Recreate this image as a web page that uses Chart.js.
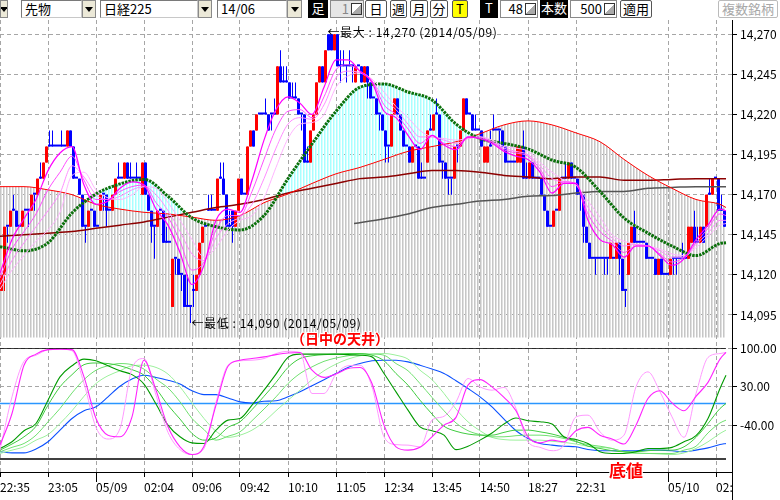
<!DOCTYPE html>
<html><head><meta charset="utf-8">
<script src="https://cdn.jsdelivr.net/npm/chart.js@4.4.1/dist/chart.umd.min.js"></script>
<style>
html,body{margin:0;padding:0;background:#fff;}
body{width:780px;height:500px;position:relative;overflow:hidden;font-family:"Noto Sans CJK JP",sans-serif;}
#tb{position:absolute;left:0;top:0;width:780px;height:20px;background:#fff;}
.e{position:absolute;top:0;height:18px;box-sizing:border-box;font-size:13px;line-height:16px;white-space:nowrap;overflow:hidden;color:#000;}
.box{background:#fff;border:1px solid #7a7a7a;border-right-color:#c8c8c8;border-bottom-color:#c8c8c8;padding-left:3px;}
.dd{background:#ece9d8;border:1px solid #8a8a8a;}
.dd::after{content:"";position:absolute;left:50%;top:6px;margin-left:-4px;border-left:4px solid transparent;border-right:4px solid transparent;border-top:5px solid #000;}
.blk{background:#000;color:#fff;text-align:center;}
.btn{background:#fff;border:1px solid #555;border-radius:2px;text-align:center;}
.inp{background:#fff;border:1px solid #8a8a8a;text-align:right;padding-right:14px;}
.dis{background:#e6e6e6;color:#888;}
.sp{position:absolute;right:1px;top:2px;width:11px;height:12px;box-sizing:border-box;border:1px solid #333;background:linear-gradient(to top left,#aaa 50%,#fff 50%);}
#c{position:absolute;left:0;top:20px;}
.ann{position:absolute;font-size:12px;line-height:14px;height:14px;white-space:pre;color:#000;letter-spacing:0.6px;}
.red{position:absolute;color:#ff0000;font-weight:bold;white-space:pre;text-shadow:-1px 0 #fff,1px 0 #fff,0 -1px #fff,0 1px #fff,1px 1px #fff,-1px -1px #fff;}
</style>
</head><body>
<div id="tb">
 <div class="e dd" style="left:0;width:8px"></div>
 <div class="e box" style="left:21px;width:61px">先物</div>
 <div class="e dd" style="left:82px;width:14px"></div>
 <div class="e box" style="left:100px;width:98px">日経225</div>
 <div class="e dd" style="left:198px;width:14px"></div>
 <div class="e box" style="left:217px;width:70px">14/06</div>
 <div class="e dd" style="left:287px;width:15px"></div>
 <div class="e blk" style="left:308px;width:20px">足</div>
 <div class="e inp dis" style="left:330px;width:34px">1<span class="sp"></span></div>
 <div class="e btn" style="left:365px;width:22px">日</div>
 <div class="e btn" style="left:390px;width:17px">週</div>
 <div class="e btn" style="left:410px;width:18px">月</div>
 <div class="e btn" style="left:430px;width:18px">分</div>
 <div class="e btn" style="left:452px;width:16px;background:#ffff00">T</div>
 <div class="e blk" style="left:480px;width:18px">T</div>
 <div class="e inp" style="left:500px;width:38px">48<span class="sp"></span></div>
 <div class="e blk" style="left:540px;width:28px">本数</div>
 <div class="e inp" style="left:570px;width:47px">500<span class="sp"></span></div>
 <div class="e btn" style="left:620px;width:32px">適用</div>
 <div class="e btn" style="left:718px;width:60px;color:#a8a8a8;border-color:#bbb">複数銘柄</div>
</div>
<canvas id="c" width="780" height="480"></canvas>
<div class="ann" id="annMax"></div>
<div class="ann" id="annMin"></div>
<div class="red" style="left:291px;top:329px;font-size:14px;line-height:18px">（日中の天井）</div>
<div class="red" style="left:609px;top:460px;font-size:17px;line-height:20px">底値</div>
<script>
// ---------- candles (one per bar index 0..241) ----------
const opens = [
14110,14120,14150,14150,14160,14160,14150,14150,14160,14160,
14160,14170,14170,14180,14180,14190,14200,14200,14200,14200,
14200,14200,14200,14210,14200,14180,14180,14170,14150,14150,
14160,14160,14150,14160,14170,14170,14160,14160,14170,14180,
14180,14180,14190,14180,14180,14180,14180,14170,14190,14170,
14160,14150,14150,14160,14160,14140,14140,14100,14130,14130,
14120,14120,14100,14100,14110,14110,14120,14140,14150,14160,
14160,14160,14160,14180,14180,14170,14150,14160,14150,14160,
14180,14170,14170,14200,14210,14210,14220,14220,14220,14220,
14220,14220,14220,14250,14240,14240,14240,14230,14230,14230,
14220,14220,14190,14190,14210,14220,14240,14250,14240,14270,
14270,14260,14270,14250,14250,14250,14250,14250,14240,14250,
14250,14240,14250,14240,14230,14230,14220,14220,14210,14200,
14200,14220,14230,14220,14210,14200,14200,14190,14200,14200,
14180,14180,14190,14210,14210,14220,14220,14190,14190,14180,
14180,14180,14200,14200,14210,14230,14220,14220,14210,14210,
14210,14190,14190,14200,14210,14210,14210,14210,14200,14190,
14190,14190,14190,14190,14200,14180,14180,14190,14180,14180,
14180,14170,14160,14150,14150,14160,14160,14180,14180,14180,
14190,14180,14180,14170,14170,14150,14140,14130,14130,14130,
14130,14130,14130,14130,14130,14130,14140,14130,14110,14120,
14140,14150,14140,14140,14140,14140,14130,14130,14130,14120,
14130,14120,14120,14120,14130,14130,14130,14130,14130,14130,
14140,14150,14140,14140,14150,14150,14170,14170,14180,14180,
14160,14160];
const highs = [
14120,14150,14150,14160,14170,14160,14150,14160,14160,14160,
14170,14170,14180,14190,14190,14200,14210,14210,14200,14200,
14210,14200,14210,14210,14200,14180,14180,14170,14150,14160,
14160,14160,14150,14170,14170,14170,14160,14170,14180,14190,
14180,14190,14190,14190,14180,14190,14180,14190,14190,14170,
14160,14150,14160,14160,14160,14150,14140,14130,14130,14130,
14120,14120,14120,14100,14120,14120,14140,14150,14150,14170,
14170,14160,14180,14190,14190,14170,14160,14160,14160,14180,
14180,14170,14200,14210,14210,14220,14220,14220,14230,14220,
14220,14230,14250,14260,14250,14250,14240,14240,14240,14230,
14220,14220,14200,14210,14220,14240,14250,14250,14260,14270,
14270,14270,14270,14260,14260,14250,14260,14250,14250,14250,
14250,14250,14250,14240,14230,14230,14220,14220,14210,14200,
14220,14230,14230,14220,14210,14200,14200,14200,14200,14200,
14190,14180,14210,14220,14220,14230,14220,14190,14190,14180,
14180,14200,14200,14210,14230,14230,14220,14220,14220,14210,
14210,14200,14200,14210,14220,14210,14210,14210,14200,14190,
14190,14190,14200,14200,14210,14190,14190,14190,14180,14180,
14180,14170,14160,14150,14160,14160,14180,14180,14190,14190,
14190,14180,14180,14170,14170,14150,14140,14130,14130,14130,
14130,14130,14130,14140,14130,14140,14140,14130,14110,14140,
14150,14160,14140,14140,14140,14140,14130,14130,14130,14130,
14130,14120,14120,14130,14130,14130,14130,14140,14130,14150,
14150,14160,14150,14150,14150,14170,14180,14180,14180,14180,
14170,14160];
const lows = [
14110,14110,14140,14150,14160,14150,14150,14150,14160,14150,
14160,14160,14170,14180,14180,14190,14200,14200,14200,14200,
14200,14200,14200,14200,14180,14180,14170,14150,14140,14150,
14160,14150,14150,14160,14160,14150,14160,14160,14170,14180,
14180,14180,14180,14180,14180,14180,14180,14170,14170,14160,
14140,14130,14150,14160,14140,14140,14140,14100,14120,14120,
14110,14100,14100,14090,14100,14110,14120,14140,14150,14160,
14160,14160,14160,14180,14170,14150,14150,14140,14150,14160,
14170,14170,14170,14200,14200,14210,14220,14220,14220,14210,
14210,14220,14220,14240,14240,14240,14230,14230,14230,14220,
14210,14190,14190,14190,14210,14220,14240,14240,14240,14260,
14260,14260,14250,14240,14250,14240,14250,14240,14240,14250,
14240,14240,14230,14230,14230,14220,14210,14210,14190,14190,
14200,14220,14220,14210,14200,14200,14190,14190,14200,14180,
14180,14180,14190,14210,14210,14220,14190,14180,14180,14170,
14170,14180,14190,14200,14210,14220,14220,14210,14210,14210,
14200,14190,14190,14200,14210,14210,14200,14200,14190,14190,
14190,14190,14190,14190,14180,14180,14180,14180,14180,14180,
14170,14160,14150,14150,14150,14160,14160,14180,14180,14180,
14180,14180,14170,14160,14140,14140,14130,14130,14120,14130,
14130,14120,14120,14130,14130,14130,14120,14110,14100,14120,
14140,14140,14140,14140,14140,14130,14130,14130,14120,14120,
14120,14120,14120,14120,14120,14120,14130,14130,14130,14130,
14140,14140,14140,14140,14140,14150,14170,14170,14180,14160,
14160,14150];
const closes = [
14120,14150,14150,14160,14160,14150,14150,14160,14160,14160,
14170,14170,14180,14180,14190,14200,14200,14200,14200,14200,
14200,14200,14210,14200,14180,14180,14170,14150,14150,14160,
14160,14150,14150,14170,14170,14160,14160,14170,14180,14180,
14180,14190,14180,14180,14180,14180,14180,14190,14170,14160,
14150,14150,14160,14160,14140,14140,14140,14130,14130,14120,
14120,14100,14100,14100,14110,14120,14140,14150,14150,14160,
14160,14160,14180,14180,14170,14150,14150,14150,14160,14180,
14170,14170,14200,14210,14200,14220,14220,14220,14220,14210,
14220,14220,14250,14240,14240,14240,14230,14230,14230,14220,
14220,14190,14190,14210,14220,14240,14250,14240,14260,14260,
14260,14270,14250,14250,14250,14250,14250,14250,14250,14250,
14240,14250,14240,14230,14230,14220,14220,14210,14200,14200,
14220,14230,14220,14210,14200,14200,14190,14200,14200,14180,
14180,14180,14210,14210,14220,14220,14190,14190,14180,14180,
14180,14200,14200,14210,14230,14220,14220,14210,14210,14210,
14200,14200,14200,14200,14210,14210,14210,14200,14190,14190,
14190,14190,14200,14200,14180,14180,14190,14180,14180,14180,
14170,14160,14150,14150,14160,14160,14180,14180,14180,14190,
14180,14180,14170,14170,14150,14140,14130,14130,14130,14130,
14130,14130,14130,14140,14130,14140,14130,14110,14110,14140,
14150,14140,14140,14140,14140,14130,14130,14130,14120,14130,
14120,14120,14120,14130,14130,14130,14130,14130,14130,14150,
14150,14140,14140,14150,14140,14170,14170,14180,14180,14160,
14160,14150];

// ---------- sampled overlay lines (bar index of each sample) ----------
const sampleIdx = [0,4,8,12,16,20,24,28,32,36,40,44,48,52,56,60,64,68,72,76,80,84,88,92,96,100,104,108,112,116,120,124,128,132,136,140,144,148,152,156,160,164,168,172,176,180,184,188,192,196,200,204,208,212,216,220,224,228,232,236,240,242];
const slowIdx = [0,8,16,24,32,40,48,56,64,72,80,88,96,104,112,120,128,136,144,152,160,168,176,184,192,200,208,216,224,232,240,242];
const grayIdx = [118,128,136,144,152,160,168,176,184,192,200,208,216,224,232,240,242];

const ribbonFast = [14121,14142,14155,14167,14185,14196,14200,14176,14164,14166,14174,14178,14176,14161,14151,14134,14114,14126,14154,14161,14159,14179,14204,14223,14231,14227,14220,14237,14254,14254,14247,14240,14222,14218,14207,14198,14207,14201,14198,14206,14205,14202,14197,14194,14192,14184,14171,14177,14177,14154,14142,14139,14131,14138,14138,14132,14126,14130,14142,14151,14161,14160];
const ribbonMid1 = [14118,14136,14147,14158,14173,14184,14194,14179,14167,14167,14172,14175,14176,14165,14156,14141,14123,14128,14148,14157,14157,14172,14192,14211,14222,14223,14218,14231,14248,14251,14247,14241,14226,14220,14211,14202,14207,14202,14200,14206,14205,14203,14198,14196,14194,14186,14175,14178,14177,14158,14147,14141,14134,14138,14138,14133,14128,14131,14140,14149,14158,14157];
const ribbonMid2 = [14114,14129,14140,14150,14160,14171,14188,14181,14170,14167,14169,14173,14175,14170,14160,14147,14133,14129,14143,14152,14156,14164,14180,14199,14214,14218,14217,14226,14243,14247,14246,14241,14230,14223,14214,14206,14206,14204,14202,14205,14206,14203,14199,14197,14195,14188,14180,14178,14176,14162,14151,14143,14138,14139,14138,14135,14131,14131,14139,14146,14154,14154];
const ribbonSlow = [14111,14123,14132,14141,14148,14159,14182,14184,14173,14168,14167,14170,14175,14174,14165,14154,14142,14131,14137,14148,14154,14157,14168,14187,14205,14214,14215,14220,14237,14244,14246,14242,14234,14225,14218,14210,14206,14205,14204,14205,14206,14204,14200,14199,14197,14190,14184,14179,14176,14166,14156,14145,14141,14139,14138,14136,14133,14132,14137,14144,14151,14152];

const greenMA = [14137.6,14135,14140,14158.6,14170.4,14176.7,14179.5,14169,14155.5,14150,14148,14157,14180,14201.6,14222,14237,14239,14234,14229,14214,14205,14202,14198.5,14191.6,14187,14172,14155.5,14146,14138,14132,14139.6,14140];
const redMA = [14175,14175,14173,14170,14164,14161,14159,14158,14156,14154,14157,14165,14170.5,14177,14183,14187,14192,14197,14200,14203,14208,14213.5,14216,14213.5,14208.5,14203,14192,14182,14174,14167,14164,14162];
const maroonMA = [14144,14145,14146,14147,14149,14151,14153,14156,14159,14162,14164,14167,14171,14174,14177,14180,14181,14183,14185,14185,14184,14182,14181,14180,14181,14181,14179,14179,14179.5,14180,14180,14180];
const grayMA = [14152,14155,14158,14162,14164,14166,14167,14169,14169.5,14171,14172,14172,14174,14174.5,14175,14175,14175];
const hatchFloor = 14081;

// ---------- oscillator panel ----------
const oscMagenta = [-75,-18,69,89,97,98,97,48,-27,-57,-60,-24,78,24,-42,-78,-92,-77,-3,67,78,81,84,88,91,92,60,47,53,63,65,36,-39,-78,-84,-79,-60,-39,-25,33,43,30,11,-13,-60,-71,-66,-69,-49,-43,-57,-64,-73,-39,9,23,1,-13,13,38,80,92];
const oscPink = [-84,12,76,87,97,98,95,36,-43,-64,-45,63,81,15,-52,-83,-92,-81,2,69,77,78,81,90,94,92,18,18,53,68,69,30,-60,-74,-75,-78,-30,-23,3,45,30,24,29,-9,-69,-79,-85,-75,-24,-21,-51,-66,-57,30,57,21,-24,-61,18,83,90,92];
const oscGreen1 = [-81,-69,-49,-36,6,48,68,80,77,68,59,52,35,-1,-39,-60,-71,-72,-48,-30,-27,-3,24,53,83,89,89,89,89,88,87,84,54,21,-12,-42,-49,-57,-83,-77,-66,-53,-37,-26,-31,-33,-37,-60,-65,-72,-87,-90,-90,-87,-81,-81,-79,-69,-58,-27,27,51];
const oscGreen2 = [-84,-73,-60,-41,-3,30,52,70,73,72,68,61,51,27,-3,-28,-54,-66,-62,-43,-33,-11,13,38,65,81,86,88,89,90,90,87,77,54,33,6,-19,-41,-50,-55,-57,-57,-52,-48,-48,-51,-55,-61,-68,-77,-81,-85,-87,-87,-85,-84,-84,-78,-61,-36,-9,0];
const oscGreen3 = [-87,-79,-72,-57,-33,-9,19,43,60,68,72,70,62,44,28,3,-27,-47,-66,-59,-51,-31,-10,12,36,54,66,76,82,86,89,89,87,72,59,36,11,-13,-35,-49,-56,-60,-60,-58,-57,-57,-59,-63,-69,-74,-77,-81,-87,-89,-90,-90,-90,-84,-77,-53,-35,-30];
const oscGreen4 = [-90,-84,-78,-66,-56,-36,-13,13,36,50,59,68,69,65,53,30,1,-27,-50,-61,-57,-48,-33,-13,6,24,43,59,71,80,86,89,90,87,80,60,43,18,-10,-33,-49,-61,-65,-66,-66,-66,-68,-70,-73,-77,-79,-81,-87,-90,-90,-91,-92,-89,-81,-69,-54,-48];
const oscBlue = [-87,-89,-89,-82,-69,-48,-27,-13,-6,12,31,44,51,47,42,35,23,16,16,10,3,1,4,5,12,21,32,43,54,65,72,77,78,78,75,69,62,54,41,27,12,-6,-28,-49,-63,-72,-75,-77,-78,-83,-85,-85,-85,-85,-84,-84,-85,-87,-84,-80,-74,-72];
const oscFrame = [100,-100];
const oscZero = [0];

// ---------- axes ----------
const xTickValues = [0,16,32,48,64,80,96,112,128,144,160,176,192,222.7,238.7];
const xTickLabels = ["22:35","23:05","05/09","02:04","09:06","09:42","10:10","11:05","12:34","13:45","14:50","18:27","22:31","05/10","02:"];
const dayBreaks = [32,222.7];
const priceTicks = [14095,14120,14145,14170,14195,14220,14245,14270];
const oscTicks = [-40,30,100];

// ---------- build ----------
const canvas = document.getElementById('c');
const ctx0 = canvas.getContext('2d');
function stripes(cols){
  const pc=document.createElement('canvas'); pc.width=cols.length; pc.height=1;
  const g=pc.getContext('2d');
  cols.forEach((c,i)=>{ if(c){g.fillStyle=c; g.fillRect(i,0,1,1);} });
  return ctx0.createPattern(pc,'repeat');
}
const grayHatch = stripes(['#c6c6c6','#e0e0e0',null]);
const cyanHatch = stripes(['#a8ffff','#d4ffff',null]);

const pts = (idx, vals) => idx.map((x,i)=>({x, y: vals[i]}));
const UP='#ff0000', DN='#0000ff';
const candleColor = closes.map((c,k)=> c>opens[k] ? UP : DN);
const bodyData = closes.map((c,k)=>({x:k+0.5, y:[Math.min(opens[k],c), Math.max(opens[k],c)]}));
const wickData = closes.map((c,k)=>({x:k+0.5, y:[lows[k], highs[k]]}));
const xEnds = [sampleIdx[0], sampleIdx[sampleIdx.length-1]];

function line(label, data, color, width, axis, order, extra){
  return Object.assign({type:'line', label, data, borderColor:color, borderWidth:width, pointRadius:0,
    fill:false, cubicInterpolationMode:'monotone', yAxisID:axis, xAxisID:'x', order}, extra||{});
}
const datasets = [];
// oscillator
datasets.push(line('oscFrameTop', pts(xEnds,[oscFrame[0],oscFrame[0]]), '#000', 1.5, 'yO', 1));
datasets.push(line('oscFrameBottom', pts(xEnds,[oscFrame[1],oscFrame[1]]), '#000', 1.5, 'yO', 1));
datasets.push(line('oscMagenta', pts(sampleIdx,oscMagenta), '#ff22ff', 1.1, 'yO', 1));
datasets.push(line('oscPink', pts(sampleIdx,oscPink), '#ff99ff', 1, 'yO', 1));
datasets.push(line('oscGreen1', pts(sampleIdx,oscGreen1), '#009a00', 1.1, 'yO', 2));
datasets.push(line('oscGreen2', pts(sampleIdx,oscGreen2), '#40cc40', 1, 'yO', 2));
datasets.push(line('oscGreen3', pts(sampleIdx,oscGreen3), '#70e070', 1, 'yO', 2));
datasets.push(line('oscGreen4', pts(sampleIdx,oscGreen4), '#9cf09c', 1, 'yO', 2));
datasets.push(line('oscBlue', pts(sampleIdx,oscBlue), '#0a50ff', 1.1, 'yO', 2));
datasets.push(line('oscZero', pts(xEnds,[oscZero[0],oscZero[0]]), '#2a96ff', 1.3, 'yO', 3));
// price overlays
datasets.push(line('ribbonFast', pts(sampleIdx,ribbonFast), '#ff00ff', 1.2, 'yP', 1));
datasets.push(line('ribbonMid1', pts(sampleIdx,ribbonMid1), '#ff4dff', 1, 'yP', 1));
datasets.push(line('ribbonMid2', pts(sampleIdx,ribbonMid2), '#ff8cff', 1, 'yP', 1));
datasets.push(line('ribbonSlow', pts(sampleIdx,ribbonSlow), '#ffb4ff', 1, 'yP', 1));
const redIndex = datasets.length + 1;
datasets.push(line('greenMA', pts(slowIdx,greenMA), '#0a700a', 3, 'yP', 1,
  {borderDash:[2.5,1], fill:{target:redIndex, above:cyanHatch, below:'rgba(0,0,0,0)'}}));
datasets.push(line('redMA', pts(slowIdx,redMA), '#ff0000', 1, 'yP', 1,
  {fill:{value:hatchFloor}, backgroundColor:grayHatch}));
datasets.push(line('maroonMA', pts(slowIdx,maroonMA), '#8c0000', 1.5, 'yP', 1));
datasets.push(line('grayMA', pts(grayIdx,grayMA), '#555555', 1.5, 'yP', 1));
// candles
datasets.push({type:'bar', label:'body', data:bodyData, backgroundColor:candleColor, borderWidth:0,
  barThickness:3, minBarLength:2, grouped:false, inflateAmount:0, yAxisID:'yP', xAxisID:'x', order:5});
datasets.push({type:'bar', label:'wick', data:wickData, backgroundColor:candleColor, borderWidth:0,
  barThickness:1, grouped:false, inflateAmount:0, yAxisID:'yP', xAxisID:'x', order:6});

const FONT = {family:"'Noto Sans CJK JP', sans-serif", size:12};
const gridDash = [4,3];
const extras = {
  id:'extras',
  afterDraw(chart){
    const {ctx, chartArea, scales:{x}} = chart;
    ctx.save(); ctx.strokeStyle='#000'; ctx.lineWidth=1; ctx.beginPath();
    const rx = Math.round(chartArea.right)+0.5;
    ctx.moveTo(rx, chartArea.bottom); ctx.lineTo(rx, chart.height);
    dayBreaks.forEach(v=>{ const px=Math.round(x.getPixelForValue(v))+0.5;
      ctx.moveTo(px, chartArea.bottom); ctx.lineTo(px, chartArea.bottom+10); });
    ctx.stroke(); ctx.restore();
  }
};
const chart = new Chart(canvas, {
  type:'line',
  data:{datasets},
  plugins:[extras],
  options:{
    animation:false, responsive:false, devicePixelRatio:1, events:[],
    layout:{padding:0},
    plugins:{legend:{display:false}, tooltip:{enabled:false}, filler:{drawTime:'beforeDatasetsDraw'}},
    scales:{
      x:{type:'linear', position:'bottom', min:0, max:244, offset:false, bounds:'data',
        afterBuildTicks:s=>{ s.ticks = xTickValues.map(v=>({value:v})); },
        afterFit:s=>{ s.height=28; s.paddingLeft=0; s.paddingRight=0; },
        ticks:{autoSkip:false, maxRotation:0, minRotation:0, align:'start', padding:3, color:'#000', font:FONT,
          callback:(v)=>{ const i=xTickValues.indexOf(v); return i>=0 ? xTickLabels[i] : ''; }},
        grid:{offset:false, color:'#a6a6a6', lineWidth:1, drawTicks:true, tickLength:5, tickColor:'#000'},
        border:{display:true, color:'#000', width:1, dash:gridDash}},
      yP:{type:'linear', position:'right', stack:'v', stackWeight:328, min:14074.4, max:14278.9, bounds:'data', beginAtZero:false,
        afterBuildTicks:s=>{ s.ticks = priceTicks.map(v=>({value:v})); },
        afterFit:s=>{ s.width=48; s.paddingTop=0; s.paddingBottom=0; },
        ticks:{autoSkip:false, padding:3, color:'#000', font:FONT, callback:v=>v.toLocaleString('en-US')},
        grid:{color:'#a6a6a6', lineWidth:1, drawTicks:true, tickLength:5, tickColor:'#000'},
        border:{display:true, color:'#000', width:1, dash:gridDash}},
      yO:{type:'linear', position:'right', stack:'v', stackWeight:124, min:-123.4, max:100, bounds:'data', beginAtZero:false,
        afterBuildTicks:s=>{ s.ticks = oscTicks.map(v=>({value:v})); },
        afterFit:s=>{ s.width=48; s.paddingTop=0; s.paddingBottom=0; },
        ticks:{autoSkip:false, padding:3, color:'#000', font:FONT, callback:v=>v.toFixed(2)},
        grid:{color:'#a6a6a6', lineWidth:1, drawTicks:true, tickLength:5, tickColor:'#000'},
        border:{display:true, color:'#000', width:1, dash:gridDash}}
    }
  }
});

// max / min annotations placed through the chart scales
(function(){
  const xs = chart.scales.x, yp = chart.scales.yP, top = canvas.offsetTop;
  const maxH = Math.max(...highs), minL = Math.min(...lows);
  const kMax = highs.indexOf(maxH), kMin = lows.indexOf(minL);
  const fmt = v => v.toLocaleString('en-US');
  const a = document.getElementById('annMax');
  a.textContent = '←最大 : ' + fmt(maxH) + ' (2014/05/09)';
  a.style.left = (xs.getPixelForValue(kMax+0.5) - 1) + 'px';
  a.style.top = (top + yp.getPixelForValue(maxH) - 9) + 'px';
  const b = document.getElementById('annMin');
  b.textContent = '←最低 : ' + fmt(minL) + ' (2014/05/09)';
  b.style.left = (xs.getPixelForValue(kMin+0.5) + 1) + 'px';
  b.style.top = (top + yp.getPixelForValue(minL) - 7) + 'px';
})();
</script>
</body></html>
